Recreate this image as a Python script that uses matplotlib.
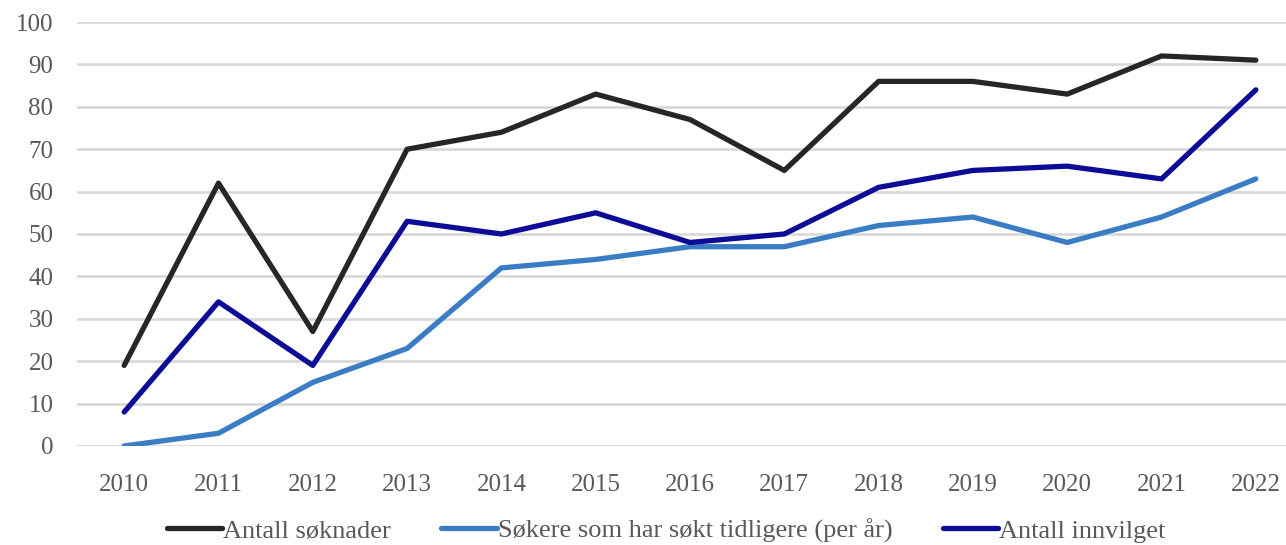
import matplotlib.pyplot as plt
import numpy as np

years = [2010, 2011, 2012, 2013, 2014, 2015, 2016, 2017, 2018, 2019, 2020, 2021, 2022]
soknader = [19, 62, 27, 70, 74, 83, 77, 65, 86, 86, 83, 92, 91]
tidligere = [0, 3, 15, 23, 42, 44, 47, 47, 52, 54, 48, 54, 63]
innvilget = [8, 34, 19, 53, 50, 55, 48, 50, 61, 65, 66, 63, 84]

plt.rcParams['font.family'] = ['Liberation Serif', 'DejaVu Serif']
text_col = '#595959'

fig = plt.figure(figsize=(12.86, 5.45), dpi=100)
ax = fig.add_axes([0.0599, 0.1817, 0.9401, 0.7779])

x = np.arange(len(years))
ax.plot(x, soknader, color='#262626', lw=3.8, solid_capstyle='round', label='Antall søknader')
ax.plot(x, tidligere, color='#3b7dc4', lw=3.8, solid_capstyle='round', label='Søkere som har søkt tidligere (per år)')
ax.plot(x, innvilget, color='#0c0c96', lw=3.8, solid_capstyle='round', label='Antall innvilget')

ax.set_xlim(-0.5, 12.32)
ax.set_ylim(0, 100)
ax.set_yticks(range(0, 101, 10))
ax.set_xticks(x)
ax.set_xticklabels([str(y) for y in years])
ax.grid(axis='y', color='#d9d9d9', lw=2)
ax.set_axisbelow(True)
for s in ax.spines.values():
    s.set_visible(False)
ax.tick_params(length=0, labelsize=18, labelcolor=text_col)
ax.tick_params(axis='x', pad=20)
ax.tick_params(axis='y', pad=17)

leg = fig.legend(loc='lower center', bbox_to_anchor=(0.518, -0.04), ncol=3, frameon=False,
                 fontsize=19, handlelength=2.1, handletextpad=0.05, columnspacing=1.9)
for t in leg.get_texts():
    t.set_color(text_col)

fig.savefig('out.png', dpi=100)
